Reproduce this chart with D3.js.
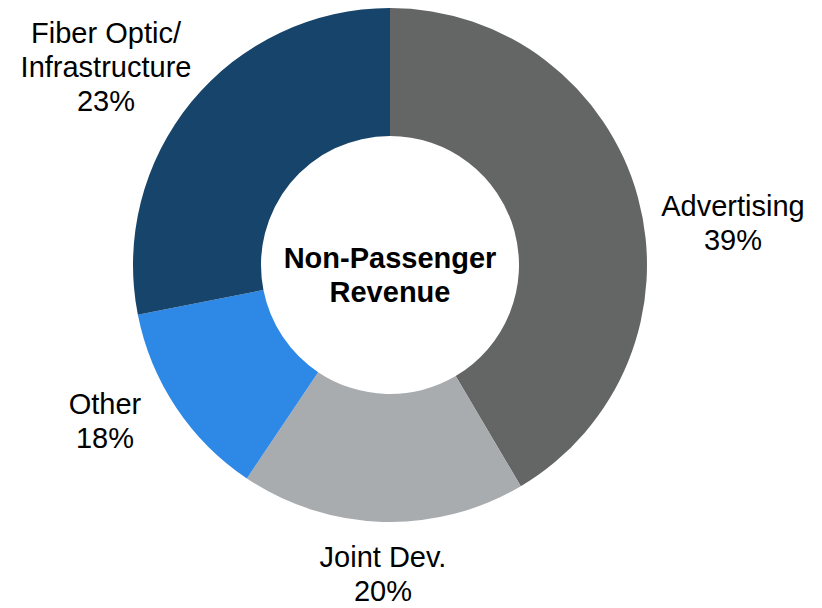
<!DOCTYPE html>
<html>
<head>
<meta charset="utf-8">
<script src="https://cdn.jsdelivr.net/npm/d3@7"></script>
<style>
  body { margin: 0; background: #fff; }
  text { font-family: "Liberation Sans", Arial, sans-serif; fill: #000; }
</style>
</head>
<body>
<div id="chart"></div>
<script>
// slice shares as drawn (the printed labels are kept separately)
var categories = ["Advertising", "Joint Dev.", "Other", "Fiber Optic/\nInfrastructure"];
var shares = [41.5, 17.9, 12.5, 28.1];
var pctLabels = ["39%", "20%", "18%", "23%"];
var colors = ["#646665", "#a8acae", "#2e88e6", "#17446b"];

var width = 822, height = 608;
var cx = 390, cy = 265;
var outerR = 257, innerR = 129;

// where each label block sits (centre x, first baseline y)
var labelPos = [[733, 216], [383, 567], [105, 414], [106, 43]];
var lineH = 34;

var svg = d3.select("#chart").append("svg")
    .attr("width", width)
    .attr("height", height);

var g = svg.append("g").attr("transform", "translate(" + cx + "," + cy + ")");

var pie = d3.pie().sort(null).value(function(d) { return d; });
var arc = d3.arc().innerRadius(innerR).outerRadius(outerR);

g.selectAll("path")
    .data(pie(shares))
    .enter().append("path")
    .attr("d", arc)
    .attr("fill", function(d, i) { return colors[i]; });

// slice labels
categories.forEach(function(c, i) {
    var lines = c.split("\n").concat([pctLabels[i]]);
    var t = svg.append("text")
        .attr("text-anchor", "middle")
        .attr("font-size", 29);
    lines.forEach(function(l, j) {
        t.append("tspan")
            .attr("x", labelPos[i][0])
            .attr("y", labelPos[i][1] + j * lineH)
            .text(l);
    });
});

// centre title
var title = svg.append("text")
    .attr("text-anchor", "middle")
    .attr("font-size", 29)
    .attr("font-weight", "bold");
["Non-Passenger", "Revenue"].forEach(function(l, j) {
    title.append("tspan")
        .attr("x", cx)
        .attr("y", 268 + j * lineH)
        .text(l);
});
</script>
</body>
</html>
